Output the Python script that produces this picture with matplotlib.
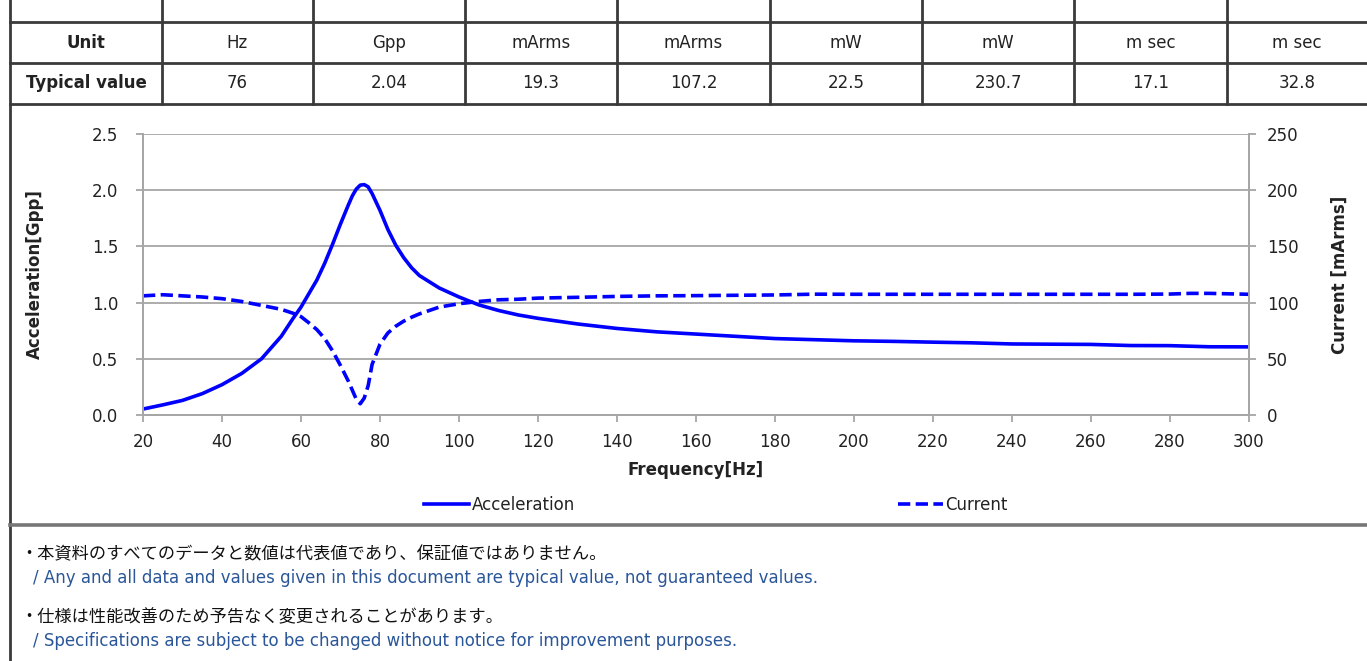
import matplotlib
matplotlib.use('Agg')
import matplotlib.pyplot as plt
from matplotlib.lines import Line2D
from matplotlib.ticker import FormatStrFormatter

W, H = 1367, 661

# frequency sweep [Hz]
freq = [20, 25, 30, 35, 40, 45, 50, 55, 58, 60, 62, 64, 66, 68, 70, 72, 73, 74,
        75, 76, 77, 78, 80, 82, 84, 86, 88, 90, 95, 100, 105, 110, 115, 120,
        130, 140, 150, 160, 170, 180, 190, 200, 210, 220, 230, 240, 250, 260,
        270, 280, 285, 290, 300]

# acceleration [Gpp]
accel = [0.053, 0.09, 0.13, 0.19, 0.27, 0.37, 0.50, 0.70, 0.86, 0.96, 1.08,
         1.20, 1.35, 1.52, 1.70, 1.87, 1.95, 2.01, 2.045, 2.05, 2.03, 1.97,
         1.82, 1.65, 1.51, 1.40, 1.31, 1.24, 1.13, 1.05, 0.98, 0.93, 0.89,
         0.86, 0.81, 0.77, 0.74, 0.72, 0.70, 0.68, 0.67, 0.66, 0.655, 0.648,
         0.642, 0.632, 0.630, 0.628, 0.618, 0.617, 0.612, 0.607, 0.606]

# current [mArms]
current = [106, 107, 106, 105, 103.5, 101, 97.5, 94, 90.5, 87.5, 82, 76, 68,
           57, 44, 30, 22, 14, 10, 15, 26, 45, 63, 73, 79, 83.5, 87, 90, 96,
           99, 101, 102.5, 103, 104, 104.7, 105.5, 106, 106.2, 106.5, 106.8,
           107.5, 107.4, 107.4, 107.4, 107.4, 107.4, 107.4, 107.4, 107.4,
           107.6, 108.2, 108.2, 107.4]

row_names = ['Unit', 'Typical value']
units = ['Hz', 'Gpp', 'mArms', 'mArms', 'mW', 'mW', 'm sec', 'm sec']
typical = ['76', '2.04', '19.3', '107.2', '22.5', '230.7', '17.1', '32.8']

notes_jp = ['・本資料のすべてのデータと数値は代表値であり、保証値ではありません。',
            '・仕様は性能改善のため予告なく変更されることがあります。']
notes_en = ['/ Any and all data and values given in this document are typical value, not guaranteed values.',
            '/ Specifications are subject to be changed without notice for improvement purposes.']

blue = '#0000ff'
grid_c = '#a6a6a6'
line_c = '#3a3a3a'
text_c = '#222222'

fig = plt.figure(figsize=(W / 100, H / 100), dpi=100)


def fx(x):
    return x / W


def fy(y):
    return 1 - y / H


def seg(x0, y0, x1, y1, lw=2.0, color=line_c):
    fig.add_artist(Line2D([fx(x0), fx(x1)], [fy(y0), fy(y1)], lw=lw,
                          color=color, transform=fig.transFigure))


# table frame
col_edges = [10, 162, 313, 465, 617, 770, 922, 1074, 1227, W]
row_edges = [22, 63, 104]
for y in row_edges:
    seg(10, y, W, y)
for x in col_edges[1:-1]:
    seg(x, 0, x, row_edges[-1])
seg(10, 0, 10, H)

cells = [[row_names[0]] + units, [row_names[1]] + typical]
for r, row in enumerate(cells):
    yc = (row_edges[r] + row_edges[r + 1]) / 2
    for c, txt in enumerate(row):
        xc = (col_edges[c] + col_edges[c + 1]) / 2
        fig.text(fx(xc), fy(yc), txt, ha='center', va='center', fontsize=12,
                 color=text_c, fontweight='bold' if c == 0 else 'normal')

# chart
ax = fig.add_axes([fx(143), fy(415), (1249 - 143) / W, (415 - 134) / H])
ax.plot(freq, accel, color=blue, lw=2.6, solid_joinstyle='round')
ax2 = ax.twinx()
ax2.plot(freq, current, color=blue, lw=2.6, dashes=(3.4, 1.5))

ax.set_xlim(20, 300)
ax.set_ylim(0, 2.5)
ax2.set_ylim(0, 250)
ax.set_xticks(range(20, 301, 20))
ax.set_yticks([0, 0.5, 1.0, 1.5, 2.0, 2.5])
ax.yaxis.set_major_formatter(FormatStrFormatter('%.1f'))
ax2.set_yticks(range(0, 251, 50))
ax.grid(axis='y', color=grid_c, lw=1.3)
ax.set_axisbelow(True)

for a in (ax, ax2):
    a.spines['top'].set_visible(False)
    for s in ('left', 'right', 'bottom'):
        a.spines[s].set_color(grid_c)
        a.spines[s].set_linewidth(1.3)
ax.tick_params(axis='x', color=grid_c, length=5, width=1.3, labelsize=12,
               labelcolor=text_c, pad=8)
ax.tick_params(axis='y', color=grid_c, length=5, width=1.3, labelsize=12,
               labelcolor=text_c, pad=13)
ax2.tick_params(axis='y', color=grid_c, length=5, width=1.3, labelsize=12,
                labelcolor=text_c, pad=8)

ax.set_ylabel('Acceleration[Gpp]', fontsize=12, fontweight='bold', color=text_c)
ax.yaxis.set_label_coords((44 - 143) / 1106, 0.5)
ax2.set_ylabel('Current [mArms]', fontsize=12, fontweight='bold', color=text_c)
ax2.yaxis.set_label_coords((1331 - 143) / 1106, 0.5)
ax.set_xlabel('Frequency[Hz]', fontsize=12, fontweight='bold', color=text_c)
ax.xaxis.set_label_coords(0.5, (415 - 461) / 281)

handles = [Line2D([], [], color=blue, lw=2.6, label='Acceleration'),
           Line2D([], [], color=blue, lw=2.6, dashes=(3.4, 1.5), label='Current')]
fig.legend(handles=handles, loc='center', bbox_to_anchor=(fx(716), fy(505)),
           ncol=2, frameon=False, fontsize=12, handlelength=2.7,
           handletextpad=0.15, columnspacing=19.4, labelcolor=text_c)

# separator between chart and notes
seg(10, 525, W, 525, lw=2.6, color='#777777')

# notes
for i, (jp, en) in enumerate(zip(notes_jp, notes_en)):
    y0 = 554 + i * 63
    fig.text(fx(20), fy(y0), jp, ha='left', va='center', fontsize=12.4,
             color='#111111', family=['Noto Sans CJK JP', 'DejaVu Sans'])
    fig.text(fx(33), fy(y0 + 24), en, ha='left', va='center', fontsize=12,
             color='#2a5699')

fig.savefig('out.png', dpi=100)
